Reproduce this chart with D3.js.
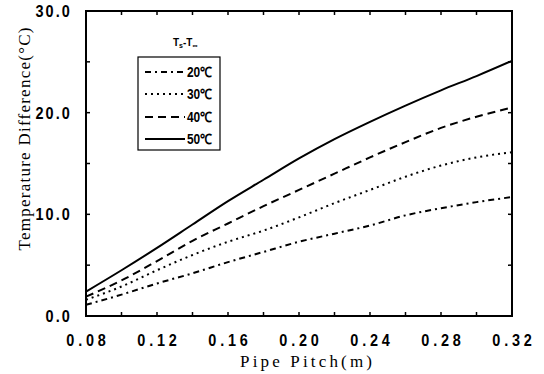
<!DOCTYPE html>
<html><head><meta charset="utf-8">
<script src="https://cdn.jsdelivr.net/npm/d3@7/dist/d3.min.js"></script>
<style>body{margin:0;background:#fff}</style>
</head><body>
<svg id="c" width="544" height="374"></svg>
<script>
const pitch = [0.08,0.10,0.12,0.14,0.16,0.18,0.20,0.22,0.24,0.26,0.28,0.30,0.32];
const dT20 = [1.1,2.1,3.2,4.2,5.3,6.3,7.3,8.1,8.9,9.9,10.6,11.2,11.7];
const dT30 = [1.6,2.9,4.5,6.0,7.3,8.4,9.7,11.1,12.4,13.7,14.8,15.6,16.1];
const dT40 = [1.9,3.5,5.4,7.4,9.1,10.8,12.4,14.0,15.6,17.1,18.5,19.6,20.5];
const dT50 = [2.4,4.5,6.7,9.0,11.3,13.4,15.5,17.4,19.1,20.7,22.2,23.6,25.1];
const seriesNames = ["20℃","30℃","40℃","50℃"];
const xTickLabels = ["0.08","0.12","0.16","0.20","0.24","0.28","0.32"];
const yTickLabels = ["0.0","10.0","20.0","30.0"];

const seriesData = [dT20,dT30,dT40,dT50];
const dashes = ["6,4,2,4","2,4","8,5",null];

const svg = d3.select("#c");
const L=86,R=512,T=11,B=316;
const x = d3.scaleLinear().domain([0.08,0.32]).range([L,R]);
const y = d3.scaleLinear().domain([0,30]).range([B,T]);
const tickFont = "'Liberation Sans','Arial',sans-serif";
const serif = "'Liberation Serif','DejaVu Serif','Times New Roman',serif";

// frame
svg.append("rect").attr("x",L).attr("y",T).attr("width",R-L).attr("height",B-T)
  .attr("fill","none").attr("stroke","#000").attr("stroke-width",2);

// ticks (inward) on all four sides
const xt = d3.range(0.08,0.3201,0.02);
const yt = d3.range(0,30.01,5);
const g = svg.append("g").attr("stroke","#000").attr("stroke-width",1.5);
xt.forEach(v=>{
  g.append("line").attr("x1",x(v)).attr("x2",x(v)).attr("y1",B).attr("y2",B-4);
  g.append("line").attr("x1",x(v)).attr("x2",x(v)).attr("y1",T).attr("y2",T+4);
});
yt.forEach(v=>{
  g.append("line").attr("x1",L).attr("x2",L+4).attr("y1",y(v)).attr("y2",y(v));
  g.append("line").attr("x1",R).attr("x2",R-4).attr("y1",y(v)).attr("y2",y(v));
});

// tick labels (bold, narrow)
xTickLabels.forEach(s=>{
  svg.append("g").attr("transform",`translate(${x(+s)+2},346) scale(0.85,1)`)
    .append("text").attr("text-anchor","middle")
    .attr("font-family",tickFont).attr("font-weight","bold").attr("font-size",17)
    .attr("letter-spacing",4.5).text(s);
});
yTickLabels.forEach(s=>{
  svg.append("g").attr("transform",`translate(${72},${y(+s)+6}) scale(0.85,1)`)
    .append("text").attr("text-anchor","end")
    .attr("font-family",tickFont).attr("font-weight","bold").attr("font-size",17)
    .attr("letter-spacing",2.5).text(s);
});

// axis titles
svg.append("text").attr("x",306).attr("y",367).attr("text-anchor","middle")
  .attr("font-family",serif).attr("font-size",17)
  .attr("textLength",132).attr("lengthAdjust","spacing").text("Pipe Pitch(m)");
svg.append("text").attr("transform","translate(30,139) rotate(-90)").attr("text-anchor","middle")
  .attr("font-family",serif).attr("font-size",17)
  .attr("textLength",223).attr("lengthAdjust","spacing").text("Temperature Difference(°C)");

// curves
const line = d3.line().x((d,i)=>x(pitch[i])).y(d=>y(d)).curve(d3.curveMonotoneX);
seriesData.forEach((s,k)=>{
  svg.append("path").attr("d",line(s)).attr("fill","none").attr("stroke","#000")
    .attr("stroke-width",2).attr("stroke-dasharray",dashes[k]);
});

// legend
const lt = svg.append("text").attr("x",173).attr("y",46).attr("font-family",tickFont)
  .attr("font-weight","bold").attr("font-size",10);
lt.append("tspan").text("T");
lt.append("tspan").attr("font-size",7).attr("dy",2).text("s");
lt.append("tspan").attr("dy",-2).text("-T");
lt.append("tspan").attr("font-size",7).attr("dy",2).text("∞");
svg.append("rect").attr("x",138).attr("y",57).attr("width",82).attr("height",93)
  .attr("fill","#fff").attr("stroke","#000").attr("stroke-width",1.2);
const ly = [72,94,117,139];
seriesNames.forEach((n,k)=>{
  svg.append("line").attr("x1",145).attr("x2",185).attr("y1",ly[k]).attr("y2",ly[k])
    .attr("stroke","#000").attr("stroke-width",2).attr("stroke-dasharray",dashes[k]);
  svg.append("g").attr("transform",`translate(187,${ly[k]+5}) scale(0.85,1)`)
    .append("text").attr("font-family",tickFont)
    .attr("font-weight","bold").attr("font-size",14).text(n);
});
</script>
</body></html>
